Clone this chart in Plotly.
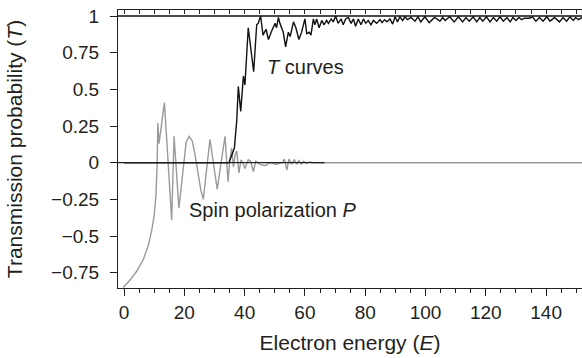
import plotly.graph_objects as go

# Transmission probability T(E)
T_ENERGY = [
    0, 34.8, 36.6, 37.4, 37.9, 38.7, 39.6, 40.1, 41.2, 43.0, 44.0, 44.5, 45.3,
    46.1, 47.1, 47.9, 49.0, 50.1, 50.6, 51.2, 51.7, 52.8, 53.6, 54.5, 55.1,
    56.2, 57.0, 58.0, 58.9, 60.0, 60.6, 61.4, 62.0, 62.8, 63.3, 63.9, 64.7,
    65.6, 66.3, 67.2, 67.8, 68.7, 69.4, 70.2, 71.0, 72.0, 72.7, 73.5, 74.4,
    75.3, 76.1, 76.8, 77.7, 78.6, 79.4, 80.2, 81.0, 81.9, 82.7, 83.8, 84.9,
    85.6, 86.4, 87.2, 88.2, 89.1, 89.9, 90.7, 91.5, 92.4, 93.2, 94.0, 95.2,
    96.5, 97.5, 98.4, 99.8, 101.2, 103.0, 104.8, 105.7, 106.5, 108.0, 109.5,
    110.9, 112.3, 113.4, 114.5, 115.8, 117.0, 118.0, 119.0, 120.2, 121.4,
    122.5, 123.6, 124.7, 125.8, 127.0, 128.1, 129.0, 130.0, 131.0, 131.9,
    132.8, 134.4, 135.5, 136.6, 137.8, 139.0, 140.2, 141.3, 142.8, 144.4,
    145.6, 146.8, 147.9, 149.0, 149.8, 150.7, 152.0,
]
T_VALUES = [
    0, 0, 0.10, 0.29, 0.52, 0.35, 0.59, 0.53, 0.92, 0.62, 0.94, 0.95, 1.0,
    0.87, 0.91, 0.84, 0.90, 0.95, 0.92, 0.99, 0.95, 0.89, 0.79, 0.89, 0.86,
    0.96, 0.92, 0.84, 0.89, 0.98, 0.88, 0.89, 0.87, 0.98, 0.94, 0.98, 0.92,
    0.97, 0.94, 0.97, 0.95, 0.98, 0.96, 1.0, 0.95, 0.98, 0.94, 0.98, 0.99,
    0.95, 0.98, 0.93, 0.98, 0.94, 0.98, 0.95, 0.97, 0.94, 0.97, 0.95, 0.975,
    0.955, 0.975, 0.96, 0.98, 0.945, 0.995, 0.96, 0.995, 0.97, 0.995, 0.975, 0.99,
    0.965, 0.995, 0.96, 0.995, 0.955, 0.99, 0.965, 0.99, 0.97, 0.995, 0.96,
    0.995, 0.96, 0.99, 0.965, 0.995, 0.96, 0.99, 0.965, 0.995, 0.96,
    0.99, 0.965, 0.995, 0.965, 0.99, 0.96, 0.99, 0.97, 0.99, 0.975,
    0.985, 0.985, 0.995, 0.965, 0.99, 0.965, 0.995, 0.965, 0.99, 0.96,
    0.99, 0.965, 0.995, 0.97, 0.99, 0.975, 0.99,
]

# Spin polarization P(E)
P_ENERGY = [
    -0.3, 2.0, 4.2, 6.4, 8.1, 9.2, 10.0, 10.6, 11.0, 11.2, 11.6, 13.4, 15.8,
    16.6, 18.2, 19.0, 19.8, 20.6, 21.6, 22.6, 23.5, 24.5, 25.5, 26.3, 28.5,
    30.9, 33.5, 34.5, 35.1, 35.7, 36.3, 36.9, 37.4, 38.1, 38.8, 39.4, 40.1,
    41.2, 42.0, 42.9, 43.7, 45.0, 46.8, 48.5, 50.5, 52.5, 53.2, 54.0, 54.7,
    55.6, 56.5, 57.3, 58.0, 58.8, 59.6, 60.5, 61.5, 62.8, 66.7, 152.0,
]
P_VALUES = [
    -0.85, -0.80, -0.74, -0.66, -0.56, -0.46, -0.36, -0.22, 0.0, 0.27, 0.13, 0.41, -0.39,
    0.18, -0.31, -0.15, 0.03, 0.14, 0.18, 0.15, 0.06, -0.07, -0.19, -0.25, 0.16,
    -0.18, 0.18, -0.13, 0.02, 0.10, -0.03, 0.06, 0.08, -0.07, 0.02, 0.0, -0.04,
    0.02, 0.01, -0.06, 0.01, -0.01, -0.02, 0.0, -0.01, 0.0, 0.025, -0.05, 0.025,
    -0.01, 0.02, -0.01, 0.015, -0.01, 0.01, -0.005, 0.005, 0.0, 0.0, 0.0,
]

X_TICKS = [0, 20, 40, 60, 80, 100, 120, 140]
Y_TICKS = [1, 0.75, 0.5, 0.25, 0, -0.25, -0.5, -0.75]
Y_TICK_TEXT = ["1", "0.75", "0.5", "0.25", "0", "\u22120.25", "\u22120.5", "\u22120.75"]

X_RANGE = [-2, 151.9]
Y_RANGE = [-0.854, 1.041]
ZERO_LINE_END = 66.5

FONT = "Liberation Sans, Arial, sans-serif"
INK = "#231f20"

fig = go.Figure()

fig.add_trace(go.Scatter(
    x=P_ENERGY, y=P_VALUES, mode="lines",
    line=dict(color="#9a9a9a", width=1.4),
    showlegend=False, hoverinfo="skip",
))
# T sits on the overlaying top axis so the top frame with inward ticks gets drawn
fig.add_trace(go.Scatter(
    x=T_ENERGY, y=T_VALUES, mode="lines", xaxis="x2",
    line=dict(color="#111111", width=1.4),
    showlegend=False, hoverinfo="skip",
))

fig.add_hline(y=1, line=dict(color="#111111", width=1.6))
fig.add_shape(type="line", x0=X_RANGE[0], x1=ZERO_LINE_END, y0=0, y1=0,
              line=dict(color="#222222", width=1.3))

fig.add_annotation(x=46.8, y=0.655, text="<i>T</i> curves", showarrow=False,
                   xanchor="left", yanchor="middle", font=dict(size=20, color=INK))
fig.add_annotation(x=20.9, y=-0.325, text="Spin polarization <i>P</i>", showarrow=False,
                   xanchor="left", yanchor="middle", font=dict(size=20, color=INK))

fig.update_layout(
    width=582, height=358,
    margin=dict(l=118, r=0, t=10, b=70),
    plot_bgcolor="white", paper_bgcolor="white",
    font=dict(family=FONT, color=INK, size=19),
    xaxis=dict(
        range=X_RANGE, tickvals=X_TICKS, showgrid=False, zeroline=False,
        showline=True, linecolor=INK, linewidth=1, automargin=False,
        ticks="outside", ticklen=7, tickcolor=INK,
        minor=dict(dtick=5, tick0=0, ticks="outside", ticklen=4, tickcolor=INK),
        tickfont=dict(size=19),
        title=dict(text="Electron energy (<i>E</i>)", font=dict(size=21), standoff=13),
    ),
    xaxis2=dict(
        range=X_RANGE, overlaying="x", side="top", dtick=5, tick0=0,
        showgrid=False, zeroline=False, showticklabels=False, automargin=False,
        showline=True, linecolor=INK, linewidth=1,
        ticks="inside", ticklen=4, tickcolor=INK,
    ),
    yaxis=dict(
        range=Y_RANGE, tickvals=Y_TICKS, ticktext=Y_TICK_TEXT,
        showgrid=False, zeroline=False, automargin=False,
        showline=True, linecolor=INK, linewidth=1,
        ticks="outside", ticklen=7, tickcolor=INK, ticklabelstandoff=7,
        tickfont=dict(size=19),
        title=dict(text="Transmission probability (<i>T</i>)", font=dict(size=21), standoff=22),
    ),
)

# page body has a default 8px margin; drop it so the figure sits at the window origin
fig.write_html(
    "out.html",
    config={"displayModeBar": False},
    post_script="document.body.style.margin = '0';",
)
